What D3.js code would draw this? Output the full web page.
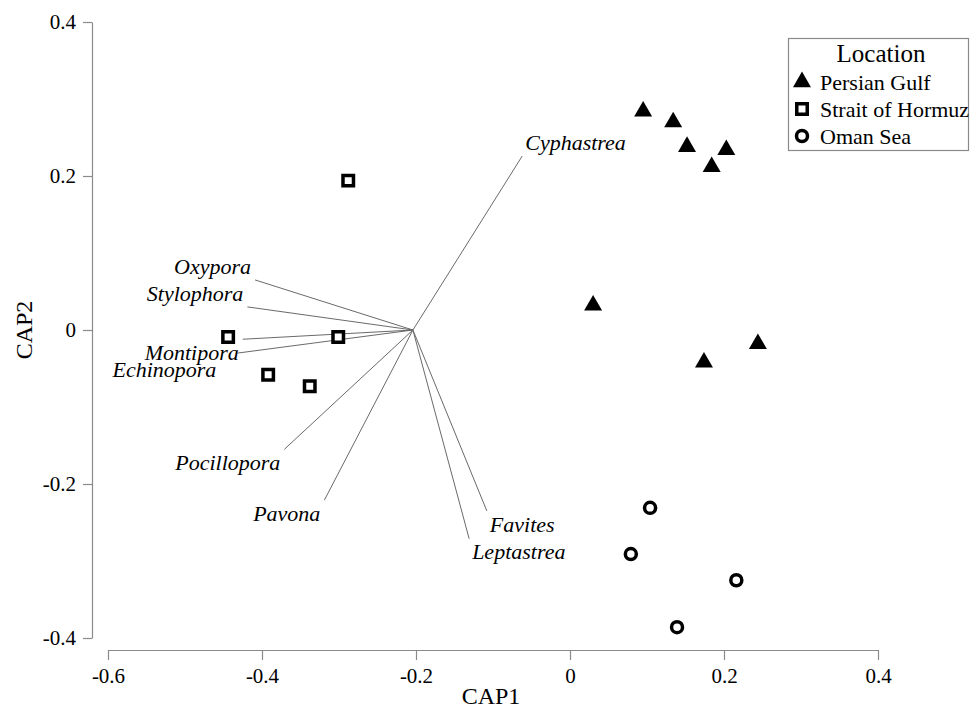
<!DOCTYPE html>
<html>
<head>
<meta charset="utf-8">
<script src="https://cdn.jsdelivr.net/npm/d3@7"></script>
<style>
  html, body { margin: 0; padding: 0; background: #fff; }
  svg { display: block; }
  text { font-family: "Liberation Serif", "Times New Roman", serif; fill: #000; }
</style>
</head>
<body>
<svg id="chart" width="970" height="712"></svg>
<script>
// ---------------- data ----------------
const locations = ["Persian Gulf", "Strait of Hormuz", "Oman Sea"];

const persianGulfCAP1 = [0.095, 0.134, 0.152, 0.203, 0.184, 0.030, 0.174, 0.244];
const persianGulfCAP2 = [0.284, 0.270, 0.238, 0.234, 0.212, 0.032, -0.042, -0.018];

const straitCAP1 = [-0.444, -0.301, -0.392, -0.338, -0.288];
const straitCAP2 = [-0.009, -0.009, -0.058, -0.073, 0.194];

const omanCAP1 = [0.104, 0.079, 0.216, 0.139];
const omanCAP2 = [-0.231, -0.291, -0.325, -0.386];

const species = ["Cyphastrea", "Oxypora", "Stylophora", "Montipora", "Echinopora",
                 "Pocillopora", "Pavona", "Favites", "Leptastrea"];
const vectorCAP1 = [-0.062, -0.409, -0.419, -0.425, -0.432, -0.371, -0.319, -0.108, -0.131];
const vectorCAP2 = [0.226, 0.065, 0.030, -0.012, -0.030, -0.155, -0.221, -0.235, -0.271];
const vectorOrigin = [-0.204, 0];

const xTicks = [-0.6, -0.4, -0.2, 0, 0.2, 0.4];
const yTicks = [-0.4, -0.2, 0, 0.2, 0.4];
const xTitle = "CAP1";
const yTitle = "CAP2";
const legendTitle = "Location";

// ---------------- layout ----------------
const svg = d3.select("#chart");
const x = d3.scaleLinear().domain([-0.6, 0.4]).range([108, 878]);
const y = d3.scaleLinear().domain([-0.4, 0.4]).range([638, 22]);
const axisColor = "#8a8a8a";
const fmt = d => (d === 0 ? "0" : String(d));

// y axis
const gy = svg.append("g").attr("transform", "translate(92,0)")
  .call(d3.axisLeft(y).tickValues(yTicks).tickFormat(fmt).tickSize(9).tickSizeOuter(0).tickPadding(7));
// x axis
const gx = svg.append("g").attr("transform", "translate(0,650)")
  .call(d3.axisBottom(x).tickValues(xTicks).tickFormat(fmt).tickSize(10).tickSizeOuter(0).tickPadding(8));

[gx, gy].forEach(g => {
  g.select(".domain").attr("stroke", axisColor).attr("stroke-width", 1.2);
  g.selectAll(".tick line").attr("stroke", axisColor).attr("stroke-width", 1.2);
  g.selectAll(".tick text")
    .style("font-family", '"Liberation Serif", "Times New Roman", serif')
    .style("font-size", "21px").attr("fill", "#000");
});

// axis titles
svg.append("text").attr("x", 491).attr("y", 704).attr("text-anchor", "middle")
  .style("font-size", "24px").text(xTitle);
svg.append("text").attr("transform", "translate(32,330) rotate(-90)").attr("text-anchor", "middle")
  .style("font-size", "24px").text(yTitle);

// ---------------- vectors ----------------
const vectors = species.map((s, i) => ({ name: s, cx: vectorCAP1[i], cy: vectorCAP2[i] }));
const labelNudge = { "Echinopora": [-17, 3] };
const gv = svg.append("g");
gv.selectAll("line").data(vectors).join("line")
  .attr("x1", x(vectorOrigin[0])).attr("y1", y(vectorOrigin[1]))
  .attr("x2", d => x(d.cx)).attr("y2", d => y(d.cy))
  .attr("stroke", "#6a6a6a").attr("stroke-width", 1);
gv.selectAll("text").data(vectors).join("text")
  .attr("x", d => {
    const left = d.cx < vectorOrigin[0];
    return x(d.cx) + (left ? -4 : 3) + (labelNudge[d.name] ? labelNudge[d.name][0] : 0);
  })
  .attr("y", d => y(d.cy) + (d.cy > 0 ? -14 : 13) + (labelNudge[d.name] ? labelNudge[d.name][1] : 0))
  .attr("dy", "0.35em")
  .attr("text-anchor", d => (d.cx < vectorOrigin[0] ? "end" : "start"))
  .style("font-size", "22px").style("font-style", "italic")
  .text(d => d.name);

// ---------------- points ----------------
const symTri = d3.symbol().type(d3.symbolTriangle).size(140);
const symSq = d3.symbol().type(d3.symbolSquare).size(110);
const symCir = d3.symbol().type(d3.symbolCircle).size(95);

function styleMarker(sel, kind) {
  if (kind === 0) sel.attr("d", symTri()).attr("fill", "#000").attr("stroke", "none");
  else if (kind === 1) sel.attr("d", symSq()).attr("fill", "#fff").attr("stroke", "#000").attr("stroke-width", 3.5);
  else sel.attr("d", symCir()).attr("fill", "#fff").attr("stroke", "#000").attr("stroke-width", 3.5);
}

const groups = [
  persianGulfCAP1.map((v, i) => ({ a: v, b: persianGulfCAP2[i] })),
  straitCAP1.map((v, i) => ({ a: v, b: straitCAP2[i] })),
  omanCAP1.map((v, i) => ({ a: v, b: omanCAP2[i] }))
];
groups.forEach((pts, k) => {
  svg.append("g").selectAll("path").data(pts).join("path")
    .attr("transform", d => `translate(${x(d.a)},${y(d.b)})`)
    .call(styleMarker, k);
});

// ---------------- legend ----------------
const lg = svg.append("g");
lg.append("rect").attr("x", 788.5).attr("y", 38.5).attr("width", 180).attr("height", 112)
  .attr("fill", "#fff").attr("stroke", axisColor).attr("stroke-width", 1.2);
lg.append("text").attr("x", 881).attr("y", 53).attr("dy", "0.35em").attr("text-anchor", "middle")
  .style("font-size", "25px").text(legendTitle);
const legendRows = [82, 109, 136];
locations.forEach((name, k) => {
  lg.append("path").attr("transform", `translate(802,${legendRows[k]})`).call(styleMarker, k);
  lg.append("text").attr("x", 820).attr("y", legendRows[k]).attr("dy", "0.35em")
    .style("font-size", "22px").text(name);
});
</script>
</body>
</html>
